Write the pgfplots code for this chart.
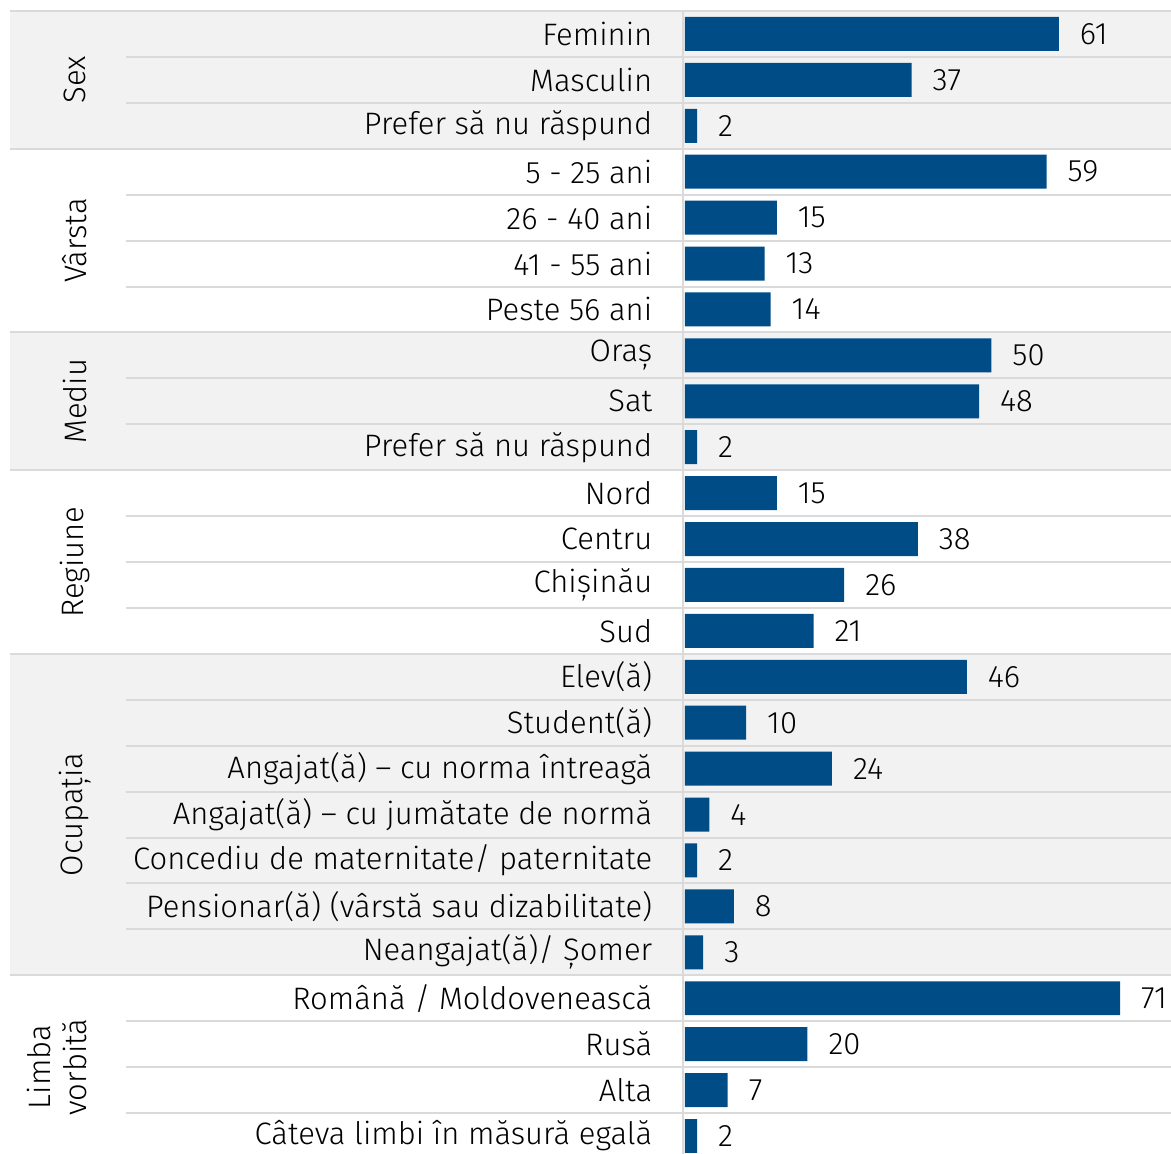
\documentclass[border=0pt]{standalone}
\usepackage{fontspec}
\setmainfont{Fira Sans}[UprightFont=* Light]
\usepackage{pgfplots}
\pgfplotsset{compat=1.18}

\definecolor{barblue}{HTML}{004C87}
\definecolor{bandgray}{HTML}{F2F2F2}
\definecolor{linegray}{HTML}{DADADA}
\newcommand{\lf}{\fontsize{15.5}{18}\selectfont}

\begin{document}
\begin{tikzpicture}
\begin{axis}[
    set layers,
    scale only axis,
    width=243pt,
    height=571pt,
    xbar,
    bar width=0.74,
    xmin=0, xmax=79.3,
    ymin=-0.5, ymax=24.38,
    y dir=reverse,
    clip=false,
    axis line style={draw=none},
    tick style={draw=none},
    xtick=\empty,
    ytick={0,...,24},
    yticklabels={
        Feminin, Masculin, Prefer să nu răspund,
        5 - 25 ani, 26 - 40 ani, 41 - 55 ani, Peste 56 ani,
        Oraș, Sat, Prefer să nu răspund,
        Nord, Centru, Chișinău, Sud,
        Elev(ă), Student(ă), Angajat(ă) – cu norma întreagă,
        Angajat(ă) – cu jumătate de normă, Concediu de maternitate/ paternitate,
        Pensionar(ă) (vârstă sau dizabilitate), Neangajat(ă)/ Șomer,
        Română / Moldovenească, Rusă, Alta, Câteva limbi în măsură egală},
    yticklabel style={font=\lf, anchor=east, xshift=-8.5pt},
    nodes near coords,
    nodes near coords style={font=\lf, anchor=west, xshift=7pt},
    /pgf/number format/assume math mode=true,
]
% grey bands for Sex, Mediu, Ocupatia
\begin{pgfonlayer}{axis background}
\fill[bandgray] (axis cs:-110.1,-0.5) rectangle (axis cs:79.3,2.5);
\fill[bandgray] (axis cs:-110.1,6.5) rectangle (axis cs:79.3,9.5);
\fill[bandgray] (axis cs:-110.1,13.5) rectangle (axis cs:79.3,20.5);
% row separators
\pgfplotsinvokeforeach{0.5,1.5,3.5,4.5,5.5,7.5,8.5,10.5,11.5,12.5,14.5,15.5,16.5,17.5,18.5,19.5,21.5,22.5,23.5}{
    \draw[linegray, line width=1pt] (axis cs:-91.2,#1) -- (axis cs:79.3,#1);
}
% group separators
\pgfplotsinvokeforeach{-0.5,2.5,6.5,9.5,13.5,20.5}{
    \draw[linegray, line width=1pt] (axis cs:-110.1,#1) -- (axis cs:79.3,#1);
}
\draw[linegray, line width=1pt] (axis cs:-0.25,-0.5) -- (axis cs:-0.25,24.5);
\end{pgfonlayer}

\addplot[fill=barblue, draw=none] coordinates {
    (61,0) (37,1) (2,2)
    (59,3) (15,4) (13,5) (14,6)
    (50,7) (48,8) (2,9)
    (15,10) (38,11) (26,12) (21,13)
    (46,14) (10,15) (24,16) (4,17) (2,18) (8,19) (3,20)
    (71,21) (20,22) (7,23) (2,24)
};

% group labels
\node[rotate=90, font=\lf] at (axis cs:-99.5,1) {Sex};
\node[rotate=90, font=\lf] at (axis cs:-99.5,4.5) {Vârsta};
\node[rotate=90, font=\lf] at (axis cs:-99.5,8) {Mediu};
\node[rotate=90, font=\lf] at (axis cs:-99.5,11.5) {Regiune};
\node[rotate=90, font=\lf] at (axis cs:-99.5,17) {Ocupația};
\node[rotate=90, font=\lf, align=center] at (axis cs:-102.4,22.5) {Limba\\vorbită};

\coordinate (bbA) at (axis cs:-111.7,-0.74);
\coordinate (bbB) at (axis cs:79.3,24.38);
\end{axis}
\pgfresetboundingbox
\path[use as bounding box] (bbA) rectangle (bbB);
\end{tikzpicture}
\end{document}
